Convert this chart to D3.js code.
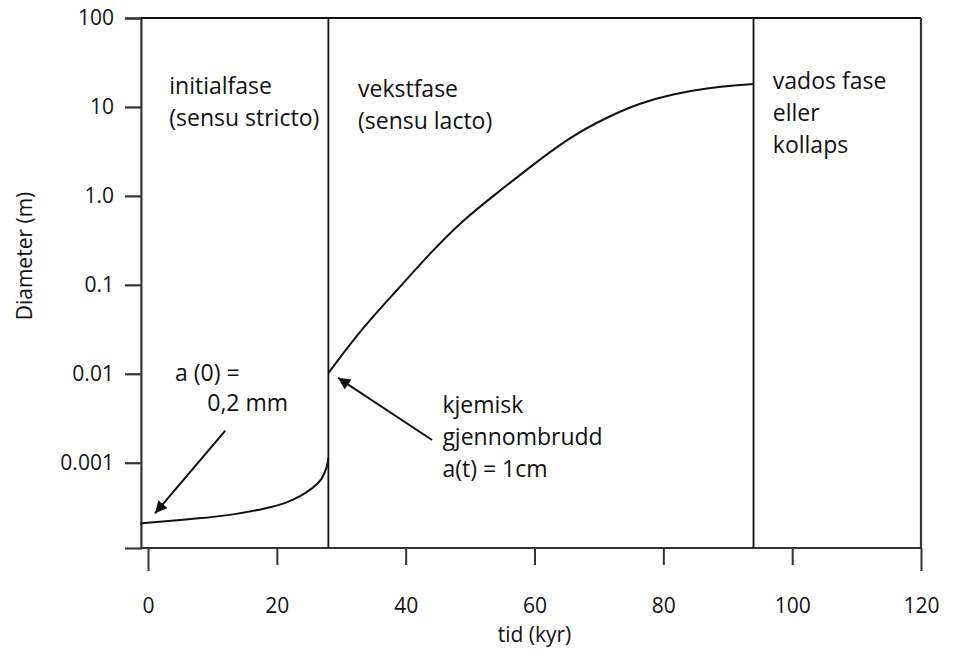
<!DOCTYPE html>
<html>
<head>
<meta charset="utf-8">
<script src="https://cdn.jsdelivr.net/npm/d3@7"></script>
<style>
  body { margin: 0; background: #fff; }
  text { font-family: "Open Sans", sans-serif; fill: #111; }
</style>
</head>
<body>
<svg id="chart" width="955" height="659"></svg>
<script>
// akser
const xTicks = [0, 20, 40, 60, 80, 100, 120]
const yTicks = [100, 10, 1, 0.1, 0.01, 0.001]
const yTickLabels = ['100', '10', '1.0', '0.1', '0.01', '0.001']

// fasegrenser (kyr)
const phaseBounds = [28, 94]

// initialfase: tid (kyr) og diameter (m)
const initT = [-1.2, 8.1, 13.2, 18.5, 21.6, 23.6, 25.6, 27.0, 27.8, 28]
const initD = [0.000208, 0.000237, 0.000259, 0.000308, 0.000356, 0.000415, 0.00052, 0.00064, 0.00090, 0.00112]

// vekstfase
const growT = [28, 33.4, 38.7, 43.8, 48.9, 54.2, 59.3, 65.5, 71.3, 76.4, 81.5, 86.8, 91.9, 93.9]
const growD = [0.0102, 0.0336, 0.0875, 0.228, 0.536, 1.08, 2.11, 4.6, 7.7, 11.1, 14.0, 16.3, 17.7, 18.1]

// tekster i figuren (t = kyr, d = diameter for første linje)
const labels = [
  { t: 3.3, d: 14, lines: ['initialfase', '(sensu stricto)'] },
  { t: 32.6, d: 13, lines: ['vekstfase', '(sensu lacto)'] },
  { t: 97, d: 16, lines: ['vados fase', 'eller', 'kollaps'] },
  { t: 4.2, d: 0.0083, lines: ['a (0) ='] },
  { t: 9.2, d: 0.0038, lines: ['0,2 mm'] },
  { t: 45.7, d: 0.0036, lines: ['kjemisk', 'gjennombrudd', 'a(t) = 1cm'] },
]

// piler: fra (t0,d0) til (t1,d1)
const arrows = [
  { t0: 12, d0: 0.0023, t1: 1.1, d1: 0.00027 },
  { t0: 44.1, d0: 0.0018, t1: 29.5, d1: 0.009 },
]

const svg = d3.select('#chart')

const x = d3.scaleLinear().domain([0, 120]).range([148, 921])
const y = d3.scaleLog().domain([0.00011, 100]).range([548, 18])
const axisX = x(-1.1) // venstre akse ligger litt før 0

// pilspiss
svg.append('defs').append('marker')
  .attr('id', 'head')
  .attr('viewBox', '0 0 10 10')
  .attr('refX', 10)
  .attr('refY', 5)
  .attr('markerWidth', 17)
  .attr('markerHeight', 12)
  .attr('markerUnits', 'userSpaceOnUse')
  .attr('orient', 'auto')
  .append('path')
  .attr('d', 'M0,0 L10,5 L0,10 Z')
  .attr('fill', '#111')

// y-akse
const yAxis = svg.append('g')
  .attr('transform', `translate(${axisX},0)`)
  .call(d3.axisLeft(y)
    .tickValues(yTicks)
    .tickFormat((d, i) => yTickLabels[i])
    .tickSize(16)
    .tickSizeOuter(16)
    .tickPadding(11))
yAxis.selectAll('path, line').attr('stroke', '#333').attr('stroke-width', 2.2)
yAxis.selectAll('text').style('font-size', '21px').attr('fill', '#111')

// x-akse
const xAxis = svg.append('g')
  .attr('transform', `translate(0,${y.range()[0]})`)
  .call(d3.axisBottom(x)
    .tickValues(xTicks)
    .tickSize(17)
    .tickSizeOuter(0)
    .tickPadding(33))
xAxis.select('.domain').remove()
xAxis.selectAll('line').attr('stroke', '#333').attr('stroke-width', 2)
xAxis.selectAll('.tick')
  .filter(d => d === 0 || d === 120)
  .select('line').attr('y2', 23)
xAxis.selectAll('text').style('font-size', '21px').attr('fill', '#111')

// grunnlinje, topp og høyre kant
svg.append('line')
  .attr('x1', axisX).attr('x2', x(120))
  .attr('y1', y.range()[0]).attr('y2', y.range()[0])
  .attr('stroke', '#333').attr('stroke-width', 2.2)
svg.append('line')
  .attr('x1', axisX).attr('x2', x(120))
  .attr('y1', y.range()[1]).attr('y2', y.range()[1])
  .attr('stroke', '#111').attr('stroke-width', 1.8)
svg.append('line')
  .attr('x1', x(120)).attr('x2', x(120))
  .attr('y1', y.range()[1]).attr('y2', y.range()[0])
  .attr('stroke', '#333').attr('stroke-width', 2.2)

// fasegrenser
svg.selectAll('.phase')
  .data(phaseBounds)
  .enter()
  .append('line')
  .attr('class', 'phase')
  .attr('x1', d => x(d)).attr('x2', d => x(d))
  .attr('y1', y.range()[1]).attr('y2', y.range()[0])
  .attr('stroke', '#111').attr('stroke-width', 1.8)

// kurvene (basis glatter ut små avlesningsfeil)
const line = d3.line()
  .x(d => x(d[0]))
  .y(d => y(d[1]))
  .curve(d3.curveBasis)

const curves = [
  d3.zip(initT, initD),
  d3.zip(growT, growD),
]

svg.selectAll('.curve')
  .data(curves)
  .enter()
  .append('path')
  .attr('class', 'curve')
  .attr('d', line)
  .attr('fill', 'none')
  .attr('stroke', '#111')
  .attr('stroke-width', 2)

// tekster
const LINE_H = 32
svg.selectAll('.label')
  .data(labels)
  .enter()
  .append('text')
  .attr('class', 'label')
  .style('font-size', '23px')
  .selectAll('tspan')
  .data(d => d.lines.map((l, i) => ({ l, i, x: x(d.t), y: y(d.d) })))
  .enter()
  .append('tspan')
  .attr('x', d => d.x)
  .attr('y', d => d.y + d.i * LINE_H)
  .text(d => d.l)

// piler
svg.selectAll('.arrow')
  .data(arrows)
  .enter()
  .append('line')
  .attr('class', 'arrow')
  .attr('x1', d => x(d.t0)).attr('y1', d => y(d.d0))
  .attr('x2', d => x(d.t1)).attr('y2', d => y(d.d1))
  .attr('stroke', '#111')
  .attr('stroke-width', 2)
  .attr('marker-end', 'url(#head)')

// aksetitler
svg.append('text')
  .attr('x', x(60))
  .attr('y', 642)
  .attr('text-anchor', 'middle')
  .style('font-size', '21px')
  .text('tid (kyr)')

svg.append('text')
  .attr('transform', `translate(32,256) rotate(-90)`)
  .attr('text-anchor', 'middle')
  .style('font-size', '21px')
  .text('Diameter (m)')
</script>
</body>
</html>
